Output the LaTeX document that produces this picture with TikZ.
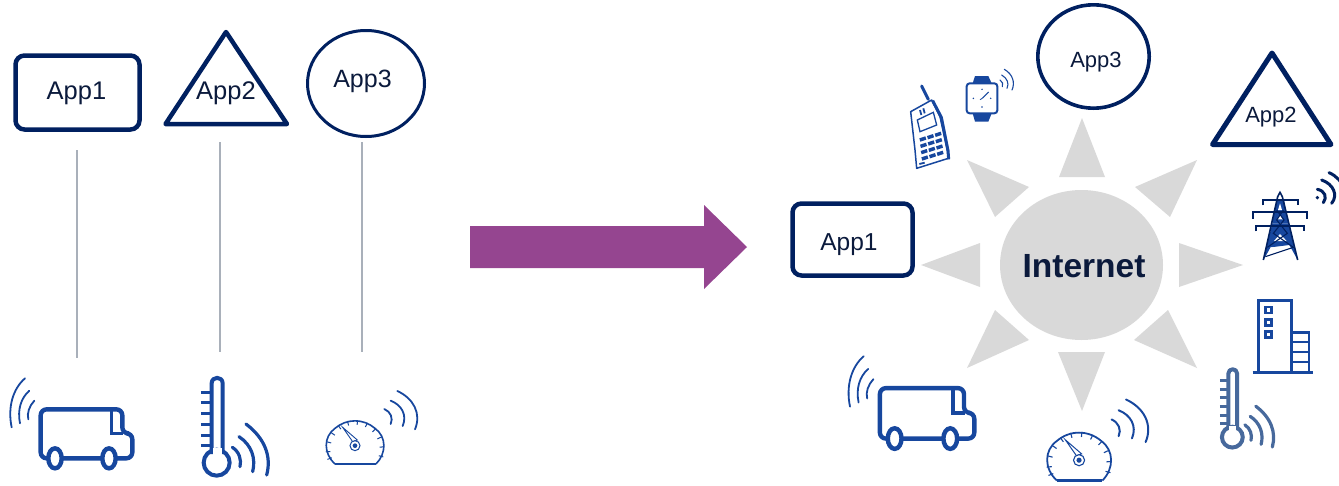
\documentclass[tikz,border=0pt]{standalone}
\usepackage{fontspec}
\setmainfont{Liberation Sans}
\definecolor{navy}{HTML}{002060}
\definecolor{iconblue}{HTML}{17479E}
\definecolor{thermblue}{HTML}{47699C}
\definecolor{rule}{HTML}{A9B0BA}
\definecolor{purple}{HTML}{954590}
\definecolor{sun}{HTML}{D9D9D9}
\definecolor{ink}{HTML}{0B1A3C}
\tikzset{
  appshape/.style={draw=navy,line width=4.5pt,fill=white,line join=round},
  applabel/.style={text=ink,inner sep=0pt,font=\fontsize{#1}{#1}\selectfont},
  vline/.style={draw=rule,line width=1.5pt},
  ray/.style={fill=sun,draw=none},
  wave/.style={draw=iconblue,line cap=round,fill=none},
}
% args: x, y, scale; local coordinates are zoomed (3x) pixels
\newcommand{\truckicon}[3]{\begin{scope}[shift={(#1,#2)},scale=#3/3]
  \draw[iconblue,line width=4.4pt,rounded corners=6pt,line join=round]
    (122,325) -- (122,178) -- (367,178) -- (367,250) -- (397,250) -- (397,325) -- cycle;
  \draw[iconblue,line width=3.6pt] (335,178) -- (335,250) -- (370,250);
  \draw[iconblue,line width=4.4pt,fill=white] (165,325) ellipse [x radius=20,y radius=30];
  \draw[iconblue,line width=4.4pt,fill=white] (327,325) ellipse [x radius=20,y radius=30];
  \draw[wave,line width=1.8pt] (35,232) .. controls (22,170) and (40,115) .. (75,85);
  \draw[wave,line width=1.8pt] (60,220) .. controls (52,180) and (62,145) .. (88,122);
  \draw[wave,line width=1.8pt] (85,208) .. controls (80,190) and (88,168) .. (103,152);
\end{scope}}
\newcommand{\thermicon}[4]{\begin{scope}[shift={(#1,#2)},scale=#3/3]
  \draw[#4,line width=4pt] (650,338) circle [radius=39];
  \draw[#4,line width=4pt,line join=round]
    (635,312) -- (635,100) .. controls (635,78) and (668,78) .. (668,100) -- (668,312);
  \fill[white] (638,295) rectangle (665,315);
  \foreach \ty in {127,158,190,222,255,285}
    \draw[#4,line width=3pt] (603,\ty) -- (635,\ty);
  \draw[#4,line cap=round,line width=3.2pt] (697,292) .. controls (718,305) and (725,330) .. (720,350);
  \draw[#4,line cap=round,line width=3.2pt] (717,260) .. controls (755,285) and (768,325) .. (758,365);
  \draw[#4,line cap=round,line width=3.2pt] (738,222) .. controls (795,265) and (815,320) .. (800,375);
\end{scope}}
\newcommand{\gaugeicon}[3]{\begin{scope}[shift={(#1,#2)},scale=#3/3]
  \draw[iconblue,line width=#3*1.6pt,fill=white] (1005,342) .. controls (970,310) and (970,260) .. (1005,235)
    .. controls (1040,205) and (1090,205) .. (1125,235) .. controls (1160,260) and (1160,310) .. (1128,342);
  \draw[iconblue,line width=#3*2.8pt] (1005,342) -- (1128,342);
  \foreach \ga in {-15,5,25,45,65,85,105,125,145,165,185,200}
    \draw[iconblue,line width=#3*1pt] ({1065+88*cos(\ga)},{298-88*sin(\ga)}) -- ({1065+74*cos(\ga)},{298-74*sin(\ga)});
  \draw[iconblue,line width=#3*0.9pt,fill=white] (1028,232) -- (1058,275) -- (1072,270) -- cycle;
  \draw[iconblue,line width=#3*1pt,fill=white] (1065,287) circle [radius=15];
  \fill[iconblue] (1065,287) circle [radius=7];
  \draw[wave,line width=#3*1.8pt] (1153,177) .. controls (1172,185) and (1180,205) .. (1172,222);
  \draw[wave,line width=#3*1.8pt] (1172,152) .. controls (1205,165) and (1222,195) .. (1208,228);
  \draw[wave,line width=#3*1.8pt] (1192,123) .. controls (1240,145) and (1265,190) .. (1245,238);
\end{scope}}
\begin{document}
\begin{tikzpicture}[x=1pt,y=-1pt]
\useasboundingbox (0,0) rectangle (1339,485);
% left column
\node[appshape,rounded corners=9pt,minimum width=124pt,minimum height=74pt,anchor=center,inner sep=0pt] (lbox) at (77.5,92.5) {};
\node[applabel=25.5] (lapp1) at (76.5,93) {App1};
\coordinate (tA) at (226,32); \coordinate (tB) at (287,124); \coordinate (tC) at (165.5,124);
\draw[appshape] (tA) -- (tB) -- (tC) -- cycle;
\node[applabel=25.5] (lapp2) at (226,93) {App2};
\draw[appshape,line width=3pt] (366,83.5) ellipse [x radius=58.5,y radius=53];
\node[applabel=25] (lapp3) at (362.5,81) {App3};
\coordinate (a1) at (77,150); \coordinate (a2) at (77,358);
\coordinate (b1) at (220,142); \coordinate (b2) at (220,352);
\coordinate (c1) at (362,142); \coordinate (c2) at (362,352);
\draw[vline] (a1) -- (a2);
\draw[vline] (b1) -- (b2);
\draw[vline] (c1) -- (c2);
\truckicon{0}{350}{1}
\thermicon{0}{350}{1}{iconblue}
\gaugeicon{0}{350}{1}
% big arrow
\fill[purple] (470,226) -- (704,226) -- (704,205) -- (747,247) -- (704,289) -- (704,268) -- (470,268) -- cycle;
% sun
\fill[sun] (1081.5,265) ellipse [x radius=81.5,y radius=75];
\node[text=ink,inner sep=0pt,font=\fontsize{33.5}{34}\selectfont\bfseries] (inet) at (1084,266) {Internet};
\fill[ray] (1059,177) -- (1105,177) -- (1082,118) -- cycle;
\fill[ray] (1058,352) -- (1105,352) -- (1082,411) -- cycle;
\fill[ray] (980,243) -- (980,287) -- (921,265) -- cycle;
\fill[ray] (1179,243) -- (1179,287) -- (1243,265) -- cycle;
\fill[ray] (1135,187) -- (1170,217) -- (1197,160) -- cycle;
\fill[ray] (1029,187) -- (995,217) -- (967,160) -- cycle;
\fill[ray] (1134,340) -- (1168,310) -- (1197,368) -- cycle;
\fill[ray] (1029,340) -- (995,310) -- (967,368) -- cycle;
% right apps
\node[appshape,rounded corners=9pt,minimum width=120pt,minimum height=72pt,inner sep=0pt] (rbox) at (852.5,239.5) {};
\node[applabel=24.5] (rapp1) at (849,244.5) {App1};
\draw[appshape,line width=3.6pt] (1093.5,56.5) ellipse [x radius=55.7,y radius=51.7];
\node[applabel=22] (rapp3) at (1096,62) {App3};
\coordinate (uA) at (1272,53); \coordinate (uB) at (1331,144.5); \coordinate (uC) at (1212.5,144.5);
\draw[appshape,line width=5pt] (uA) -- (uB) -- (uC) -- cycle;
\node[applabel=22] (rapp2) at (1271,117.5) {App2};
% icons
\truckicon{838}{327}{1.03}
\gaugeicon{685}{354}{1.11}
\thermicon{1059}{347}{0.8}{thermblue}
% building
\begin{scope}[shift={(1230,160)},scale=1/3,iconblue]
  \draw[line width=2.6pt] (68,637) -- (250,637);
  \draw[line width=2.6pt] (85,637) -- (85,422) -- (185,422) -- (185,637);
  \draw[line width=2.4pt] (185,517) -- (237,517) -- (237,637);
  \foreach \by in {547,575,605} \draw[line width=2.2pt] (185,\by) -- (237,\by);
  \foreach \by in {450,487,523} \draw[line width=2.4pt] (106,\by-9) rectangle (124,\by+9);
\end{scope}
% tower
\begin{scope}[shift={(1230,160)},scale=1/3]
  \fill[iconblue] (100,300) -- (127,190) -- (175,190) -- (203,300) -- (178,255) -- (122,262) -- cycle;
  \fill[white] (150,222) -- (170,243) -- (132,243) -- cycle;
  \fill[white] (122,262) -- (172,262) -- (112,285) -- cycle;
  \fill[iconblue] (140,120) -- (162,120) -- (175,190) -- (127,190) -- cycle;
  \fill[white] (150,165) -- (159,178) -- (141,178) -- cycle;
  \fill[white] (150,130) -- (156,150) -- (144,150) -- cycle;
  \draw[navy,line width=1.6pt] (100,300) -- (143,110) -- (150,97) -- (157,110) -- (203,300);
  \draw[navy,line width=1.1pt] (140,150) -- (162,180) -- (130,220) -- (190,262) -- (106,290);
  \draw[navy,line width=1.1pt] (160,150) -- (140,180) -- (172,220) -- (112,262);
  \draw[navy,line width=1.8pt] (99,136) -- (99,120) -- (205,120) -- (205,136);
  \draw[navy,line width=1.8pt] (68,176) -- (68,157) -- (232,157) -- (232,176);
  \draw[navy,line width=1.8pt] (78,214) -- (78,197) -- (222,197) -- (222,214);
  \fill[navy] (262,113) circle [radius=5.5];
  \draw[navy,line width=3pt,line cap=round] (262,88) .. controls (285,92) and (292,112) .. (280,128);
  \draw[navy,line width=3pt,line cap=round] (275,60) .. controls (310,72) and (325,105) .. (305,130);
  \draw[navy,line width=3pt,line cap=round] (297,38) .. controls (320,48) and (335,65) .. (345,90);
\end{scope}
% phone
\begin{scope}[shift={(890,60)},scale=1/3,iconblue]
  \draw[line width=3pt,line cap=round] (95,78) -- (115,118);
  \draw[line width=1.5pt,fill=white,line join=round] (62,155) -- (125,120) -- (150,170) -- (172,270) -- (175,295) -- (80,325) -- (75,270) -- cycle;
  \draw[line width=3pt] (128,122) -- (154,172) -- (174,272) -- (176,298);
  \draw[line width=1.3pt] (82,180) -- (130,157) -- (140,195) -- (90,215) -- cycle;
  \draw[line width=1.8pt] (90,150) -- (94,165);
  \draw[line width=1.8pt] (100,145) -- (104,160);
  \foreach \row in {0,1,2,3} \foreach \col in {0,1,2}
    \fill ({88+\col*23+\row*2},{235+\row*19-\col*7}) -- ++(18,-6) -- ++(3,10) -- ++(-18,6) -- cycle;
  \draw[line width=1.8pt] (88,312) -- (104,308);
\end{scope}
% watch
\begin{scope}[shift={(890,60)},scale=1/3,iconblue]
  \fill (248,70) -- (255,48) -- (295,48) -- (305,70) -- cycle;
  \fill (248,160) -- (255,185) -- (295,185) -- (305,160) -- cycle;
  \draw[line width=2pt,rounded corners=3pt,fill=white] (230,70) rectangle (322,160);
  \draw[line width=1pt] (277,115) -- (296,96);
  \draw[line width=.8pt] (277,115) -- (270,119);
  \foreach \wx/\wy in {276/88,276/141,250/115,302/115} \fill (\wx,\wy) circle [radius=2.5];
  \draw[wave,line width=1.1pt] (330,60) .. controls (338,65) and (340,72) .. (337,80);
  \draw[wave,line width=1.1pt] (335,45) .. controls (352,55) and (358,70) .. (351,85);
  \draw[wave,line width=1.1pt] (343,28) .. controls (368,42) and (376,68) .. (366,90);
\end{scope}
\end{tikzpicture}
\end{document}
